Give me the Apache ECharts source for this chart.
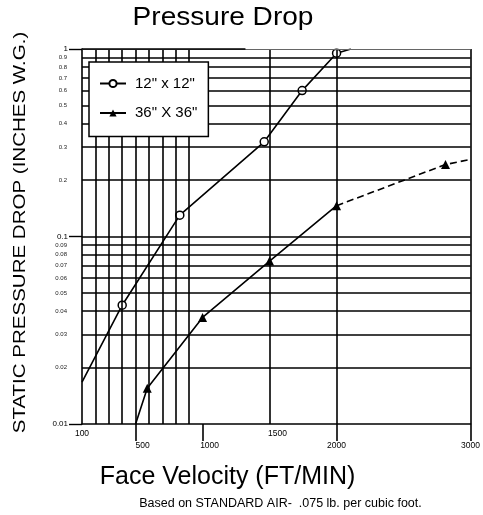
<!DOCTYPE html>
<html>
<head>
<meta charset="utf-8">
<script src="https://cdn.jsdelivr.net/npm/echarts@6.0.0/dist/echarts.min.js"></script>
<style>
html,body{margin:0;padding:0;background:#fff;}
#chart{width:483px;height:515px;}
</style>
</head>
<body>
<div id="chart"></div>
<script>
// ---- data ----
const xTickLabels = [100, 500, 1000, 1500, 2000, 3000];
const xTickMarks = [500, 1000, 2000, 3000];
const xGridValues = [200, 300, 400, 500, 600, 700, 800, 900, 1500, 2000, 3000];
const yMinorValues = [0.02, 0.03, 0.04, 0.05, 0.06, 0.07, 0.08, 0.09, 0.2, 0.3, 0.4, 0.5, 0.6, 0.7, 0.8, 0.9];
const yMajorLines = [0.1];

const name12 = '12" x 12"';
const name36 = '36" X 36"';

const pts12X = [400, 830, 1460, 1743, 2000];
const pts12Y = [0.043, 0.13, 0.32, 0.6, 0.95];
const line12Start = [100, 0.0167];
const line12End = [2107, 1.0];

const pts36X = [587, 1000, 1500, 2000];
const pts36Y = [0.0155, 0.037, 0.074, 0.146];
const line36Start = [500, 0.01];
const dash36X = [2813];
const dash36Y = [0.242];
const dash36End = [3000, 0.258];

// ---- build ----
const FONT = '"Liberation Sans", Arial, sans-serif';
const noSym = v => ({ value: v, symbol: 'none' });

const data12 = [noSym(line12Start)]
  .concat(pts12X.map((x, i) => [x, pts12Y[i]]))
  .concat([noSym(line12End)]);
const data36 = [noSym(line36Start)].concat(pts36X.map((x, i) => [x, pts36Y[i]]));
const lastSolid = [pts36X[pts36X.length - 1], pts36Y[pts36Y.length - 1]];
const dataDash = [noSym(lastSolid)]
  .concat(dash36X.map((x, i) => [x, dash36Y[i]]))
  .concat([noSym(dash36End)]);

const gridLineStyle = { color: '#000', width: 1.6, type: 'solid' };
const markData = [];
xGridValues.forEach(v => markData.push({ xAxis: v, label: { show: false } }));
yMajorLines.forEach(v => markData.push({ yAxis: v, label: { show: false } }));
yMinorValues.forEach(v => markData.push({
  yAxis: v,
  label: { show: true, position: 'start', distance: 15, formatter: String(v), fontSize: 6, color: '#222', fontFamily: FONT }
}));
// top border: thin full + thick partial
markData.push({ yAxis: 1, label: { show: false }, lineStyle: { color: '#666', width: 1 } });
markData.push([{ coord: [100, 1] }, { coord: [1320, 1] }]);

const chart = echarts.init(document.getElementById('chart'), null, { renderer: 'canvas' });
chart.setOption({
  animation: false,
  backgroundColor: '#fff',
  grid: { left: 82, right: 11, top: 49, bottom: 91, containLabel: false },
  legend: {
    data: [name12, name36],
    orient: 'vertical',
    left: 89, top: 62,
    z: 50, zlevel: 1,
    padding: [14, 11, 16, 10],
    itemWidth: 26, itemHeight: 9, itemGap: 14.5,
    backgroundColor: '#fff',
    borderColor: '#000', borderWidth: 1.5,
    textStyle: { fontSize: 15, color: '#000', fontFamily: FONT, padding: [0, 0, 0, 4] }
  },
  xAxis: {
    type: 'value', min: 100, max: 3000,
    axisLine: { show: true, lineStyle: { color: '#000', width: 1.6 } },
    axisTick: { show: true, customValues: xTickMarks, length: 17, lineStyle: { color: '#000', width: 1.6 } },
    splitLine: { show: false },
    axisLabel: {
      customValues: xTickLabels,
      margin: 5,
      color: '#000', fontSize: 8.5, fontFamily: FONT,
      formatter: v => {
        if (v === 100) return '{a|' + v + '}';
        if (v === 1500) return '{d|' + v + '}';
        if (v === 500 || v === 1000) return '{c|' + v + '}';
        return '{b|' + v + '}';
      },
      rich: {
        a: { fontSize: 8.5, fontFamily: FONT, color: '#000' },
        b: { fontSize: 8.5, fontFamily: FONT, color: '#000', padding: [12, 0, 0, 0] },
        c: { fontSize: 8.5, fontFamily: FONT, color: '#000', padding: [12, 0, 0, 14] },
        d: { fontSize: 8.5, fontFamily: FONT, color: '#000', padding: [0, 0, 0, 16] }
      }
    }
  },
  yAxis: {
    type: 'log', logBase: 10, min: 0.01, max: 1,
    axisLine: { show: true, lineStyle: { color: '#000', width: 1.6 } },
    axisTick: { show: true, length: 13, lineStyle: { color: '#000', width: 1.4 } },
    splitLine: { show: false },
    minorTick: { show: false },
    axisLabel: { color: '#000', fontSize: 8, fontFamily: FONT, margin: 14 }
  },
  graphic: [
    { type: 'text', x: 223, y: 17.5, scaleX: 1.1,
      style: { text: 'Pressure Drop', font: '25.5px ' + FONT, fill: '#000',
               textAlign: 'center', textVerticalAlign: 'middle', align: 'center', verticalAlign: 'middle' } },
    { type: 'text', x: 21, y: 232.5, rotation: Math.PI / 2, scaleX: 1.26,
      style: { text: 'STATIC PRESSURE DROP (INCHES W.G.)', font: '16.3px ' + FONT, fill: '#000',
               textAlign: 'center', textVerticalAlign: 'middle', align: 'center', verticalAlign: 'middle' } },
    { type: 'text', x: 227.5, y: 477.5,
      style: { text: 'Face Velocity (FT/MIN)', font: '25px ' + FONT, fill: '#000',
               textAlign: 'center', textVerticalAlign: 'middle', align: 'center', verticalAlign: 'middle' } },
    { type: 'text', x: 280.5, y: 503.5,
      style: { text: 'Based on STANDARD AIR-  .075 lb. per cubic foot.', font: '12.5px ' + FONT, fill: '#000',
               textAlign: 'center', textVerticalAlign: 'middle', align: 'center', verticalAlign: 'middle' } }
  ],
  series: [
    {
      name: 'grid', type: 'line', z: 1, silent: true,
      data: [[100, 0.01]], symbol: 'none', lineStyle: { opacity: 0 },
      markLine: {
        silent: true, symbol: ['none', 'none'], animation: false,
        lineStyle: gridLineStyle,
        label: { show: false },
        emphasis: { disabled: true },
        data: markData
      }
    },
    {
      name: name36 + ' ext', type: 'line', z: 3,
      data: dataDash,
      symbol: 'triangle', symbolSize: 9,
      itemStyle: { color: '#000' },
      lineStyle: { color: '#000', width: 1.6, type: [7, 4] }
    },
    {
      name: name12, type: 'line', z: 4,
      data: data12,
      symbol: 'circle', symbolSize: 8, showAllSymbol: true,
      itemStyle: { color: '#fff', borderColor: '#000', borderWidth: 1.5 },
      lineStyle: { color: '#000', width: 1.6 }
    },
    {
      name: name36, type: 'line', z: 4,
      data: data36,
      symbol: 'triangle', symbolSize: 9, showAllSymbol: true,
      itemStyle: { color: '#000' },
      lineStyle: { color: '#000', width: 1.6 }
    }
  ]
});
</script>
</body>
</html>
